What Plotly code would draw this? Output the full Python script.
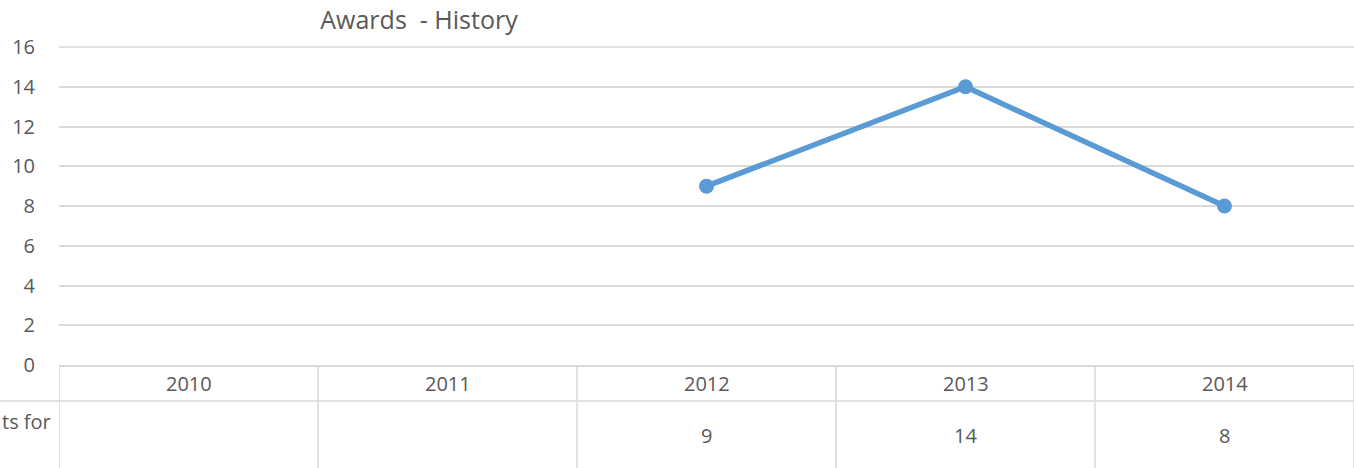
import plotly.graph_objects as go

categories = ["2010", "2011", "2012", "2013", "2014"]
values = [None, None, 9, 14, 8]
series_label = "ts for"
title_text = "Awards &nbsp;- History"
y_ticks = [0, 2, 4, 6, 8, 10, 12, 14, 16]

W, H = 1354, 468
L, R, T, B = 59, 0, 47, 103
PH = H - T - B
PW = W - L - R

def py(pix):
    return (H - B - pix) / PH

def px(pix):
    return (pix - L) / PW

grid = "#d9d9d9"
txt = "#595959"
font = "Open Sans"

fig = go.Figure()
fig.add_trace(go.Scatter(
    x=categories, y=values, mode="lines+markers",
    line=dict(color="#5B9BD5", width=5.5),
    marker=dict(color="#5B9BD5", size=15),
    connectgaps=False, showlegend=False, hoverinfo="x+y",
))

shapes = []
# top gridline (plotly drops gridlines at the very edge of the range); the top of
# the y range is the top of the plot area, i.e. paper y = 1
shapes.append(dict(type="line", xref="paper", yref="paper", layer="below",
                   x0=0, x1=1, y0=1, y1=1,
                   line=dict(color=grid, width=1.5)))
# row divider
shapes.append(dict(type="line", xref="paper", yref="paper",
                   x0=px(0), x1=1, y0=py(401), y1=py(401),
                   line=dict(color=grid, width=1.5)))
# vertical cell borders
for i in range(len(categories) + 1):
    xb = i - 0.5
    shapes.append(dict(type="line", xref="x", yref="paper",
                       x0=xb, x1=xb, y0=0, y1=py(H + 5),
                       line=dict(color=grid, width=1.5)))

annotations = []
for i, c in enumerate(categories):
    annotations.append(dict(x=i, y=py(383), xref="x", yref="paper", text=c,
                            showarrow=False, font=dict(family=font, size=20, color=txt),
                            xanchor="center", yanchor="middle"))
    v = values[i]
    if v is not None:
        annotations.append(dict(x=i, y=py(435), xref="x", yref="paper", text=str(v),
                                showarrow=False, font=dict(family=font, size=20, color=txt),
                                xanchor="center", yanchor="middle"))
annotations.append(dict(x=px(53), y=py(421), xref="paper", yref="paper", text=series_label,
                        showarrow=False, font=dict(family=font, size=20, color=txt),
                        xanchor="right", yanchor="middle"))

fig.update_layout(
    width=W, height=H,
    margin=dict(l=L, r=R, t=T, b=B, pad=0),
    paper_bgcolor="white", plot_bgcolor="white",
    title=dict(text=title_text, x=px(419), xref="paper", xanchor="center",
               y=1 - 20 / H, yanchor="middle",
               font=dict(family=font, size=25, color=txt)),
    xaxis=dict(type="category", range=[-0.5, len(categories) - 0.5],
               showgrid=False, showticklabels=False, ticks="",
               showline=True, linecolor=grid, linewidth=1.5, zeroline=False,
               fixedrange=True),
    yaxis=dict(range=[0, max(y_ticks)], tickvals=y_ticks, showgrid=True, gridcolor=grid,
               gridwidth=1.5, zeroline=False, showline=False, ticks="outside", ticklen=19,
               tickcolor="rgba(0,0,0,0)",
               tickfont=dict(family=font, size=20, color=txt), fixedrange=True),
    shapes=shapes, annotations=annotations,
    font=dict(family=font, color=txt),
)

fig.write_html("out.html", config={"displayModeBar": False},
               post_script="document.body.style.margin='0';document.body.style.overflow='hidden';")
